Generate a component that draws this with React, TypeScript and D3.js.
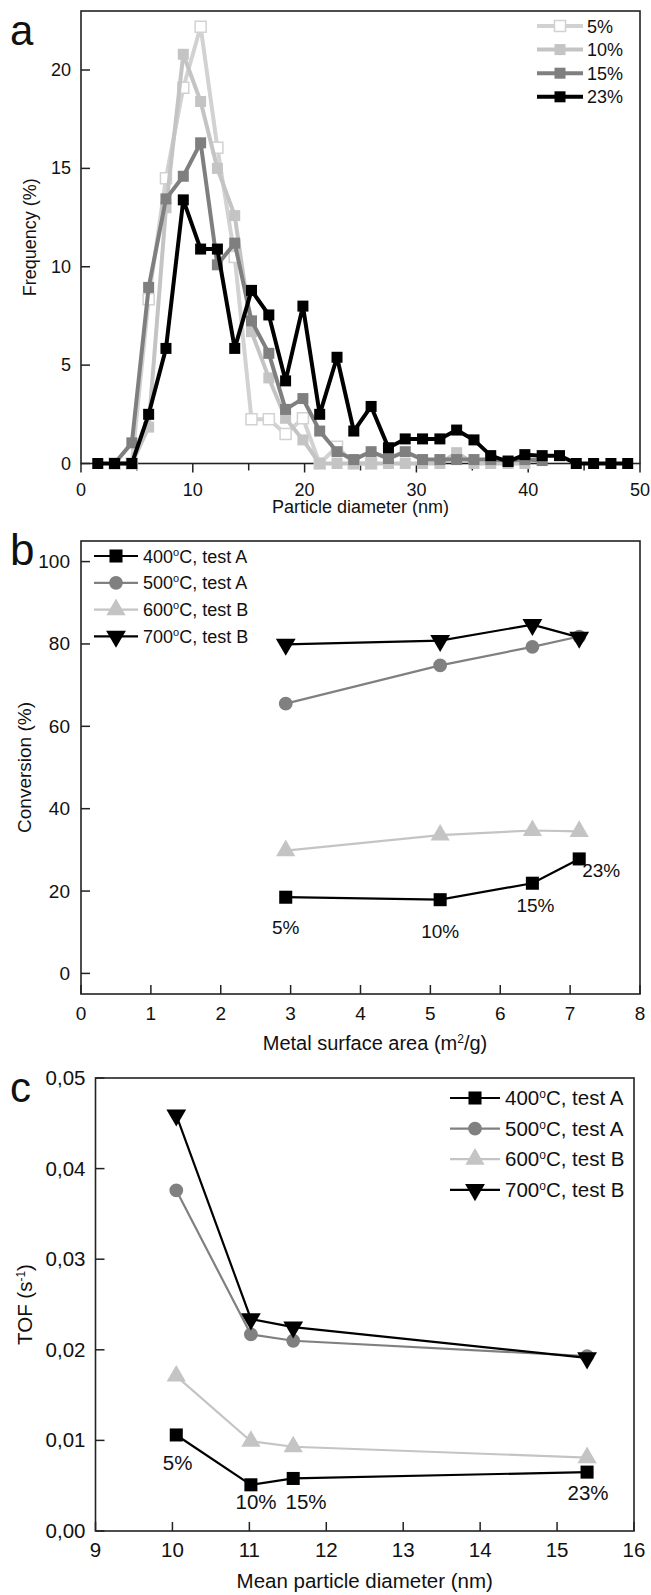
import React from "react";
import * as d3 from "d3";

// ---------- Panel a data ----------
const binCenters = [1.5, 3.0, 4.55, 6.05, 7.6, 9.15, 10.7, 12.2, 13.75, 15.25, 16.8, 18.3, 19.85, 21.35, 22.9, 24.4, 25.95, 27.5, 29.0, 30.55, 32.1, 33.6, 35.15, 36.65, 38.2, 39.7, 41.25, 42.8, 44.3, 45.85, 47.4, 48.9];
const freq5: (number | null)[] = [null, 0, 0, 8.35, 14.5, 19.1, 22.2, 16.05, 10.5, 2.25, 2.25, 1.5, 2.3, 0, 0.85, 0, 0, null, null, null, null, null, null, null, null, null, null, null, null, null, null, null];
const freq10: (number | null)[] = [null, 0, 0, 1.85, 13.0, 20.8, 18.4, 15.0, 12.6, 6.7, 4.35, 2.3, 1.2, 0, 0, 0, 0, 0, 0, 0, 0, 0.55, 0, 0, 0, 0, null, null, null, null, null, null];
const freq15: (number | null)[] = [null, 0, 1.05, 8.95, 13.45, 14.6, 16.3, 10.1, 11.2, 7.25, 5.6, 2.75, 3.3, 1.65, 0.6, 0.2, 0.6, 0.25, 0.6, 0.2, 0.2, 0.2, 0.2, 0.2, 0.15, 0.2, 0.15, null, null, null, null, null];
const freq23: (number | null)[] = [0, 0, 0, 2.5, 5.85, 13.4, 10.9, 10.9, 5.85, 8.8, 7.55, 4.2, 8.0, 2.5, 5.4, 1.65, 2.9, 0.8, 1.25, 1.25, 1.25, 1.7, 1.2, 0.4, 0.1, 0.45, 0.4, 0.4, 0, 0, 0, 0];
const loadingLabels = ["5%", "10%", "15%", "23%"];
const xTicksA = [0, 10, 20, 30, 40, 50];
const xMinorA = [5, 15, 25, 35, 45];
const yTicksA = [0, 5, 10, 15, 20];

// ---------- Panel b data ----------
const surfaceArea = [2.93, 5.14, 6.46, 7.13];
const conv400 = [18.5, 17.9, 21.9, 27.8];
const conv500 = [65.5, 74.8, 79.3, 81.8];
const conv600 = [29.8, 33.6, 34.7, 34.5];
const conv700 = [79.9, 80.8, 84.7, 81.6];
const xTicksB = [0, 1, 2, 3, 4, 5, 6, 7, 8];
const yTicksB = [0, 20, 40, 60, 80, 100];

// ---------- Panel c data ----------
const meanDiameter = [10.05, 11.02, 11.57, 15.39];
const tof400 = [0.0106, 0.0051, 0.0058, 0.0065];
const tof500 = [0.0376, 0.0217, 0.0210, 0.0193];
const tof600 = [0.0171, 0.0099, 0.0093, 0.0081];
const tof700 = [0.0459, 0.0234, 0.0225, 0.0191];
const xTicksC = [9, 10, 11, 12, 13, 14, 15, 16];
const yTicksC = [0, 0.01, 0.02, 0.03, 0.04, 0.05];

const FONT = "'Liberation Sans', Arial, sans-serif";

const seriesA = [
  { label: loadingLabels[0], values: freq5, stroke: "#d2d2d2", fill: "#ffffff" },
  { label: loadingLabels[1], values: freq10, stroke: "#c4c4c4", fill: "#c4c4c4" },
  { label: loadingLabels[2], values: freq15, stroke: "#7f7f7f", fill: "#7f7f7f" },
  { label: loadingLabels[3], values: freq23, stroke: "#000000", fill: "#000000" },
];

type Sym = "square" | "circle" | "up" | "down";
const symPath = (s: Sym, size: number) => {
  const t = s === "square" ? d3.symbolSquare : s === "circle" ? d3.symbolCircle : d3.symbolTriangle;
  return d3.symbol().type(t).size(size)() as string;
};

const Marker = ({ x, y, s, size, fill, stroke, sw = 0 }: any) => (
  <path
    d={symPath(s, size)}
    transform={`translate(${x},${y})${s === "down" ? " rotate(180)" : ""}`}
    fill={fill}
    stroke={stroke}
    strokeWidth={sw}
  />
);

const Deg = ({ t, sup = 11 }: { t: string; sup?: number }) => {
  const [num, rest] = t.split("°");
  return (
    <>
      {num}
      <tspan dy={-7} fontSize={sup}>o</tspan>
      <tspan dy={7}>{rest}</tspan>
    </>
  );
};

const tempLabels = ["400°C, test A", "500°C, test A", "600°C, test B", "700°C, test B"];
const tempStyles: { color: string; sym: Sym }[] = [
  { color: "#000000", sym: "square" },
  { color: "#808080", sym: "circle" },
  { color: "#c4c4c4", sym: "up" },
  { color: "#000000", sym: "down" },
];
const symSize: Record<Sym, number> = { square: 170, circle: 150, up: 160, down: 170 };

export default function App() {
  // ----- Panel A -----
  const A = { l: 81, r: 640, t: 11, b: 463.5 };
  const xA = d3.scaleLinear().domain([0, 50]).range([A.l, A.r]);
  const yA = d3.scaleLinear().domain([0, 23]).range([A.b, A.t]);
  const lineA = d3
    .line<[number, number | null]>()
    .defined((d) => d[1] !== null)
    .x((d) => xA(d[0]))
    .y((d) => yA(d[1] as number));

  // ----- Panel B -----
  const B = { l: 81, r: 640, t: 541, b: 994 };
  const xB = d3.scaleLinear().domain([0, 8]).range([B.l, B.r]);
  const yB = d3.scaleLinear().domain([-5, 105]).range([B.b, B.t]);
  const lineB = d3.line<number>().x((_, i) => xB(surfaceArea[i])).y((d) => yB(d));
  const convSeries = [conv400, conv500, conv600, conv700];

  // ----- Panel C -----
  const C = { l: 95.5, r: 634, t: 1078, b: 1531 };
  const xC = d3.scaleLinear().domain([9, 16]).range([C.l, C.r]);
  const yC = d3.scaleLinear().domain([0, 0.05]).range([C.b, C.t]);
  const lineC = d3.line<number>().x((_, i) => xC(meanDiameter[i])).y((d) => yC(d));
  const tofSeries = [tof400, tof500, tof600, tof700];
  const fmtC = (v: number) => d3.format(".2f")(v).replace(".", ",");
  const FC = 20.5;

  const frame = (P: any) => (
    <rect x={P.l} y={P.t} width={P.r - P.l} height={P.b - P.t} fill="none" stroke="#222" strokeWidth={1.6} />
  );

  return (
    <svg
      width={651}
      height={1595}
      style={{ position: "absolute", left: 0, top: 0, background: "#fff", fontFamily: FONT }}
    >
      <rect x={0} y={0} width={651} height={1595} fill="#fff" />

      {/* ================= Panel a ================= */}
      <text x={10} y={45} fontSize={42} fill="#111">a</text>
      {frame(A)}
      {xTicksA.map((t) => (
        <g key={"xa" + t}>
          <line x1={xA(t)} x2={xA(t)} y1={A.b} y2={A.b + 9} stroke="#222" strokeWidth={1.5} />
          <text x={xA(t)} y={A.b + 32} fontSize={18} textAnchor="middle" fill="#111">{t}</text>
        </g>
      ))}
      {xMinorA.map((t) => (
        <line key={"xm" + t} x1={xA(t)} x2={xA(t)} y1={A.b} y2={A.b + 7} stroke="#222" strokeWidth={1.5} />
      ))}
      {yTicksA.map((t) => (
        <g key={"ya" + t}>
          <line x1={A.l} x2={A.l + 9} y1={yA(t)} y2={yA(t)} stroke="#222" strokeWidth={1.5} />
          <text x={A.l - 10} y={yA(t) + 6} fontSize={18} textAnchor="end" fill="#111">{t}</text>
        </g>
      ))}
      <text x={(A.l + A.r) / 2} y={513} fontSize={18} textAnchor="middle" fill="#111">Particle diameter (nm)</text>
      <text transform={`translate(36,${(A.t + A.b) / 2}) rotate(-90)`} fontSize={18} textAnchor="middle" fill="#111">
        Frequency (%)
      </text>
      {seriesA.map((s) => {
        const pts = binCenters.map((x, i) => [x, s.values[i]] as [number, number | null]);
        return (
          <g key={s.label}>
            <path d={lineA(pts) as string} fill="none" stroke={s.stroke} strokeWidth={4} strokeLinejoin="round" />
            {pts
              .filter((p) => p[1] !== null)
              .map((p, i) => (
                <rect
                  key={i}
                  x={xA(p[0]) - 5.5}
                  y={yA(p[1] as number) - 5.5}
                  width={11}
                  height={11}
                  fill={s.fill}
                  stroke={s.label === "5%" ? s.stroke : "none"}
                  strokeWidth={1.5}
                />
              ))}
          </g>
        );
      })}
      {/* legend a */}
      {seriesA.map((s, i) => {
        const y = 26 + i * 23.6;
        return (
          <g key={"lga" + i}>
            <line x1={537} x2={583} y1={y} y2={y} stroke={s.stroke} strokeWidth={4} />
            <rect x={554.5} y={y - 5.5} width={11} height={11} fill={s.fill} stroke={s.label === "5%" ? s.stroke : "none"} strokeWidth={1.5} />
            <text x={587} y={y + 6.5} fontSize={18} fill="#111">{s.label}</text>
          </g>
        );
      })}

      {/* ================= Panel b ================= */}
      <text x={10} y={565} fontSize={44} fill="#111">b</text>
      {frame(B)}
      {xTicksB.map((t) => (
        <g key={"xb" + t}>
          <line x1={xB(t)} x2={xB(t)} y1={B.b} y2={B.b - 9} stroke="#222" strokeWidth={1.5} />
          <text x={xB(t)} y={B.b + 26} fontSize={19} textAnchor="middle" fill="#111">{t}</text>
        </g>
      ))}
      {yTicksB.map((t) => (
        <g key={"yb" + t}>
          <line x1={B.l} x2={B.l + 9} y1={yB(t)} y2={yB(t)} stroke="#222" strokeWidth={1.5} />
          <text x={B.l - 11} y={yB(t) + 6.5} fontSize={19} textAnchor="end" fill="#111">{t}</text>
        </g>
      ))}
      <text x={375} y={1050} fontSize={20} textAnchor="middle" fill="#111">
        Metal surface area (m<tspan dy={-7} fontSize={12}>2</tspan><tspan dy={7}>/g)</tspan>
      </text>
      <text transform={`translate(31,${(B.t + B.b) / 2}) rotate(-90)`} fontSize={19} textAnchor="middle" fill="#111">
        Conversion (%)
      </text>
      {[1, 2, 3, 0].map((k) => {
        const st = tempStyles[k];
        const vals = convSeries[k];
        return (
          <g key={"sb" + k}>
            <path d={lineB(vals) as string} fill="none" stroke={st.color} strokeWidth={2.2} />
            {vals.map((v, i) => (
              <Marker key={i} x={xB(surfaceArea[i])} y={yB(v)} s={st.sym} size={symSize[st.sym]} fill={st.color} />
            ))}
          </g>
        );
      })}
      {loadingLabels.map((lab, i) => {
        const dx = [0, 0, 3, 22][i];
        const dy = [30, 31, 22, 11][i];
        return (
          <text key={"lb" + i} x={xB(surfaceArea[i]) + dx} y={yB(conv400[i]) + dy + 7} fontSize={19} textAnchor="middle" fill="#111">
            {lab}
          </text>
        );
      })}
      {/* legend b */}
      {tempLabels.map((lab, i) => {
        const y = 556 + i * 26.8;
        const st = tempStyles[i];
        return (
          <g key={"lgb" + i}>
            <line x1={94} x2={138} y1={y} y2={y} stroke={st.color} strokeWidth={2.2} />
            <Marker x={116} y={y} s={st.sym} size={symSize[st.sym]} fill={st.color} />
            <text x={143} y={y + 6.5} fontSize={18} fill="#111"><Deg t={lab} /></text>
          </g>
        );
      })}

      {/* ================= Panel c ================= */}
      <text x={10} y={1102} fontSize={42} fill="#111">c</text>
      {frame(C)}
      {xTicksC.map((t) => (
        <g key={"xc" + t}>
          <line x1={xC(t)} x2={xC(t)} y1={C.b} y2={C.b - 9} stroke="#222" strokeWidth={1.5} />
          <text x={xC(t)} y={C.b + 26} fontSize={FC} textAnchor="middle" fill="#111">{t}</text>
        </g>
      ))}
      {yTicksC.map((t) => (
        <g key={"yc" + t}>
          <line x1={C.l} x2={C.l + 9} y1={yC(t)} y2={yC(t)} stroke="#222" strokeWidth={1.5} />
          <text x={C.l - 10} y={yC(t) + 7} fontSize={FC} textAnchor="end" fill="#111">{fmtC(t)}</text>
        </g>
      ))}
      <text x={(C.l + C.r) / 2} y={1588} fontSize={FC} textAnchor="middle" fill="#111">Mean particle diameter (nm)</text>
      <text transform={`translate(32,${(C.t + C.b) / 2}) rotate(-90)`} fontSize={FC} textAnchor="middle" fill="#111">
        TOF (s<tspan dy={-7} fontSize={12}>-1</tspan><tspan dy={7}>)</tspan>
      </text>
      {[2, 0, 1, 3].map((k) => {
        const st = tempStyles[k];
        const vals = tofSeries[k];
        return (
          <g key={"sc" + k}>
            <path d={lineC(vals) as string} fill="none" stroke={st.color} strokeWidth={2.2} />
            {vals.map((v, i) => (
              <Marker key={i} x={xC(meanDiameter[i])} y={yC(v)} s={st.sym} size={symSize[st.sym]} fill={st.color} />
            ))}
          </g>
        );
      })}
      {loadingLabels.map((lab, i) => {
        const pos = [
          [177.6, 1470],
          [256, 1508.5],
          [306, 1508.5],
          [588, 1500],
        ][i];
        return (
          <text key={"lc" + i} x={pos[0]} y={pos[1]} fontSize={FC} textAnchor="middle" fill="#111">{lab}</text>
        );
      })}
      {/* legend c */}
      {tempLabels.map((lab, i) => {
        const y = 1098 + i * 30.6;
        const st = tempStyles[i];
        return (
          <g key={"lgc" + i}>
            <line x1={450} x2={500} y1={y} y2={y} stroke={st.color} strokeWidth={2.2} />
            <Marker x={475} y={y} s={st.sym} size={symSize[st.sym]} fill={st.color} />
            <text x={505} y={y + 7} fontSize={FC} fill="#111"><Deg t={lab} sup={12} /></text>
          </g>
        );
      })}
    </svg>
  );
}
